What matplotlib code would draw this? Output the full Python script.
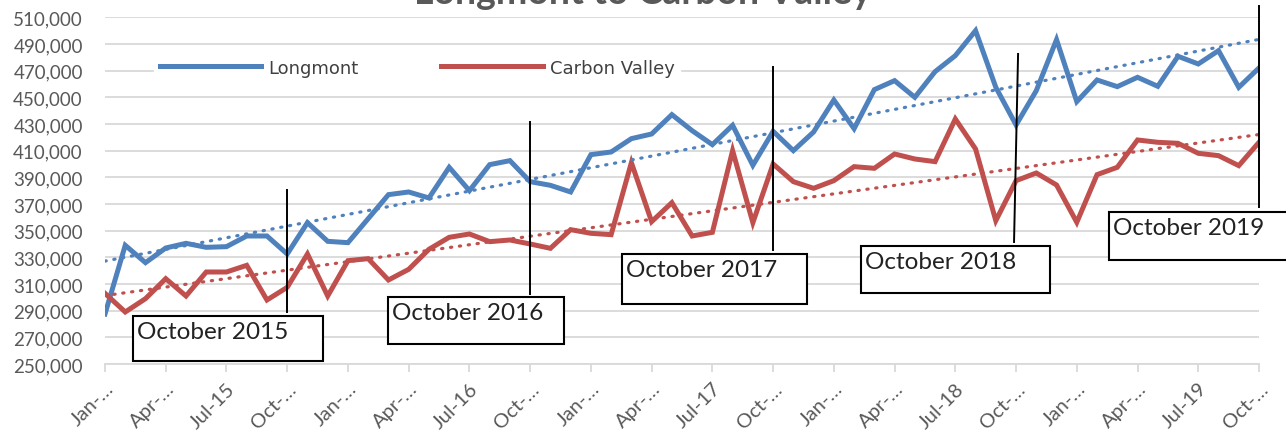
import numpy as np
import matplotlib
matplotlib.use("Agg")
import matplotlib.pyplot as plt
from matplotlib.patches import Rectangle

plt.rcParams['font.family'] = ['Lato', 'DejaVu Sans']

# monthly values, Jan-15 .. Oct-19 (thousands)
longmont = [287.5, 339, 326, 337, 340.5, 337.5, 338, 346, 346, 332.5,
            356, 342, 341, 359, 377, 379, 374.5, 397.5, 380, 399.5,
            402.5, 386.75, 384, 379, 407, 409, 419, 422.5, 437, 425,
            414.5, 429, 399, 424.5, 410, 424, 448, 426.5, 455.75, 462.5,
            450, 469.25, 481.25, 500, 457.5, 429.25, 455, 493.25, 446.75, 463,
            458, 465, 458.25, 480.75, 475, 485, 457.5, 472]
carbon_valley = [303, 289, 299, 314, 301, 319, 319, 324, 298, 307.5,
                 332.5, 301, 327.5, 329, 313, 321, 336, 345, 347.5, 341.75,
                 343, 340, 336.75, 350.75, 348, 347, 401, 356.75, 371, 346,
                 348.75, 410, 356, 400, 386.75, 381.75, 387.5, 398, 396.75, 407.5,
                 403.75, 401.75, 433.75, 411.25, 357.5, 387.5, 393.25, 384.25, 356.25, 392,
                 397.5, 418, 416.25, 415.5, 408, 406.25, 398.75, 416.25]

tick_labels = ["Jan-\u2026", "Apr-\u2026", "Jul-15", "Oct-\u2026",
               "Jan-\u2026", "Apr-\u2026", "Jul-16", "Oct-\u2026",
               "Jan-\u2026", "Apr-\u2026", "Jul-17", "Oct-\u2026",
               "Jan-\u2026", "Apr-\u2026", "Jul-18", "Oct-\u2026",
               "Jan-\u2026", "Apr-\u2026", "Jul-19", "Oct-\u2026"]

# callouts: label, month index of the October
callout_text = ["October 2015", "October 2016", "October 2017", "October 2018", "October 2019"]
callout_idx = [9, 21, 33, 45, 57]

blue = '#4F81BD'
red = '#C0504D'
grey = '#595959'

lm = np.array(longmont) * 1000
cv = np.array(carbon_valley) * 1000
x = np.arange(len(lm))

fig = plt.figure(figsize=(12.86, 4.35), dpi=100)
ax = fig.add_axes([105/1286, 1-365/435, 1154/1286, 346.7/435])

ax.plot(x, lm, color=blue, lw=3.6, solid_joinstyle='miter', label='Longmont', zorder=3)
ax.plot(x, cv, color=red, lw=3.6, solid_joinstyle='miter', label='Carbon Valley', zorder=3)

for y, c in [(lm, blue), (cv, red)]:
    k, b = np.polyfit(x, y, 1)
    ax.plot(x, k*x + b, color=c, lw=2.3, linestyle=(0, (0.4, 2.4)),
            dash_capstyle='round', zorder=4)

ax.set_xlim(0, len(x)-1)
ax.set_ylim(250000, 510000)
ax.set_yticks(np.arange(250000, 510001, 20000))
ax.yaxis.set_major_formatter(matplotlib.ticker.FuncFormatter(lambda v, p: f"{int(v):,}"))
ax.grid(axis='y', color='#d9d9d9', lw=1.3)
ax.set_axisbelow(True)
ax.set_xticks(x[::3])
ax.set_xticklabels(tick_labels, rotation=45, ha='right', rotation_mode='anchor')
ax.tick_params(axis='y', length=0, pad=16, labelsize=13.5, labelcolor=grey)
ax.tick_params(axis='x', length=6, width=1.3, color='#d9d9d9', pad=5,
               labelsize=14.5, labelcolor=grey)
for s in ['left', 'right', 'top']:
    ax.spines[s].set_visible(False)
ax.spines['bottom'].set_color('#d9d9d9')
ax.spines['bottom'].set_linewidth(1.3)

leg = ax.legend(loc='center left', bbox_to_anchor=(0.035, 0.855), ncol=2,
                frameon=True, fancybox=False, edgecolor='white', framealpha=1,
                handlelength=5.6, handletextpad=0.4, columnspacing=4.6,
                borderpad=0.3, prop={'family': 'DejaVu Sans', 'size': 13})
for t in leg.get_texts():
    t.set_color('#404040')
for h in leg.get_lines():
    h.set_linewidth(3.6)
leg.set_zorder(2)

fig.text(0.5, 1 - 4/435, "Longmont to Carbon Valley", ha='center', va='baseline',
         fontsize=27, fontweight='bold', color=grey)

# callout geometry (month index, value)
line_top = [380500, 431500, 472700, 482500, 518500]
line_bot = [289000, 302500, 335500, 341500, 367700]
line_tilt = [0, 0, 0, 0.2, 0]
box_left = [1.38, 13.98, 25.53, 37.33, 49.58]
box_right = [10.77, 22.67, 34.67, 46.67, 59.0]
box_top = [286000, 300200, 332500, 338500, 364000]
box_bot = [252300, 265000, 295000, 303300, 328000]

for i in range(len(callout_text)):
    ix = callout_idx[i]
    ax.plot([ix + line_tilt[i]/2, ix - line_tilt[i]/2], [line_top[i], line_bot[i]],
            color='black', lw=1.4, zorder=6, clip_on=False)
    ax.add_patch(Rectangle((box_left[i], box_bot[i]), box_right[i]-box_left[i],
                           box_top[i]-box_bot[i], facecolor='white', edgecolor='black',
                           lw=1.5, zorder=7, clip_on=False))
    ax.text(box_left[i] + 0.2, box_top[i] - 4000, callout_text[i], ha='left', va='top',
            fontsize=17.5, color='#222222', zorder=8, clip_on=False)

fig.savefig('out.png', dpi=100)
